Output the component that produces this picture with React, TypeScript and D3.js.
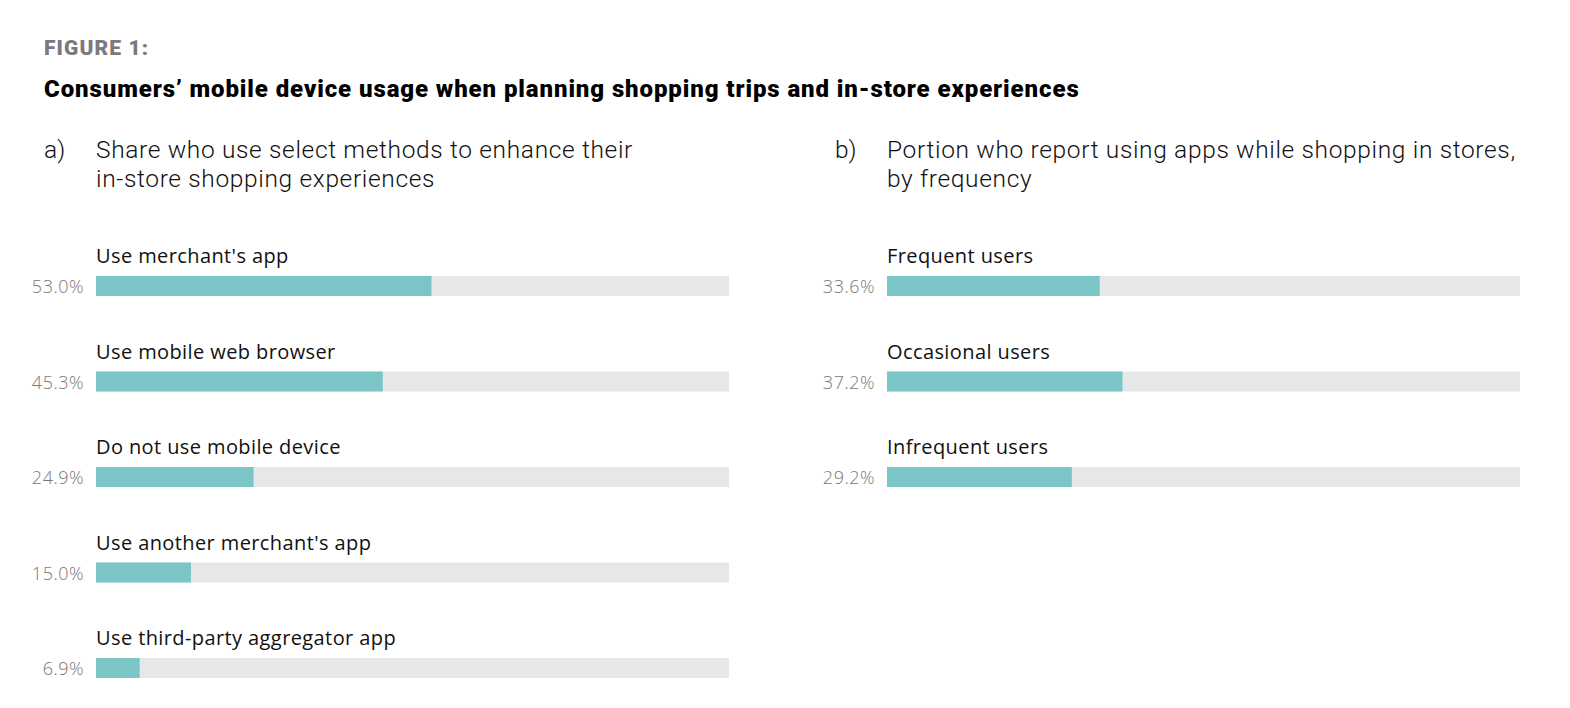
import React, { useEffect, useRef } from 'react';
import * as d3 from 'd3';

const methodLabels = [
  "Use merchant's app",
  'Use mobile web browser',
  'Do not use mobile device',
  "Use another merchant's app",
  'Use third-party aggregator app',
];
const methodValues = [53.0, 45.3, 24.9, 15.0, 6.9];

const frequencyLabels = ['Frequent users', 'Occasional users', 'Infrequent users'];
const frequencyValues = [33.6, 37.2, 29.2];

const FONT = "'Open Sans', 'Noto Sans', sans-serif";
const SUB_FONT = "'Roboto', sans-serif";
const teal = '#7cc5c6';
const track = '#e6e7e8';

const App: React.FC = () => {
  const svgRef = useRef<SVGSVGElement>(null);

  useEffect(() => {
    document.body.style.margin = '0';
    const svg = d3.select(svgRef.current);
    svg.selectAll('*').remove();

    const width = 1570;
    const height = 708;
    svg.attr('width', width).attr('height', height).style('background', '#fff');

    // Header
    svg.append('text')
      .attr('x', 44).attr('y', 55)
      .style('font-family', "'Roboto', sans-serif")
      .style('font-weight', 900)
      .style('font-size', '21px')
      .style('letter-spacing', '1.1px')
      .attr('fill', '#7a7a7a')
      .text('FIGURE 1:');

    svg.append('text')
      .attr('x', 44).attr('y', 97)
      .style('font-family', "'Roboto', sans-serif")
      .style('font-weight', 900)
      .style('font-size', '24px')
      .style('letter-spacing', '0.9px')
      .attr('fill', '#000')
      .text('Consumers\u2019 mobile device usage when planning shopping trips and in-store experiences');

    const panels = [
      {
        letter: 'a)', x0: 44, x: 96,
        title: ['Share who use select methods to enhance their', 'in-store shopping experiences'],
        labels: methodLabels, values: methodValues,
      },
      {
        letter: 'b)', x0: 835, x: 887,
        title: ['Portion who report using apps while shopping in stores,', 'by frequency'],
        labels: frequencyLabels, values: frequencyValues,
      },
    ];

    const barWidth = 633;
    const step = 95.5;
    const firstBarTop = 276;
    const barHeight = 20;

    panels.forEach(p => {
      const g = svg.append('g');

      g.append('text')
        .attr('x', p.x0).attr('y', 158)
        .style('font-family', SUB_FONT)
        .style('font-weight', 300)
        .style('font-size', '24.5px')
        .attr('fill', '#111')
        .text(p.letter);

      p.title.forEach((line, i) => {
        g.append('text')
          .attr('x', p.x).attr('y', 158 + i * 29)
          .style('font-family', SUB_FONT)
          .style('font-weight', 300)
          .style('font-size', '24.5px')
          .style('letter-spacing', '0.65px')
          .attr('fill', '#111')
          .text(line);
      });

      const x = d3.scaleLinear().domain([0, 100]).range([p.x, p.x + barWidth]);
      const y = d3.scaleBand<number>()
        .domain(d3.range(p.labels.length))
        .range([firstBarTop, firstBarTop + step * p.labels.length]);

      const rows = g.selectAll('g.row')
        .data(p.values.map((v, i) => ({ v, label: p.labels[i], i })))
        .enter()
        .append('g')
        .attr('class', 'row')
        .attr('transform', d => `translate(0,${y(d.i)})`);

      rows.append('rect')
        .attr('x', x(0)).attr('y', 0)
        .attr('width', x(100) - x(0))
        .attr('height', barHeight)
        .attr('fill', track);

      rows.append('rect')
        .attr('x', x(0)).attr('y', 0)
        .attr('width', d => x(d.v) - x(0))
        .attr('height', barHeight)
        .attr('fill', teal);

      rows.append('text')
        .attr('x', p.x).attr('y', -13)
        .style('font-family', FONT)
        .style('font-size', '20px')
        .style('letter-spacing', '0.4px')
        .attr('fill', '#111')
        .text(d => d.label);

      rows.append('text')
        .attr('x', p.x - 12).attr('y', 17)
        .attr('text-anchor', 'end')
        .style('font-family', FONT)
        .style('font-weight', 300)
        .style('font-size', '18px')
        .style('letter-spacing', '0.5px')
        .attr('fill', '#777')
        .text(d => `${d.v.toFixed(1)}%`);
    });
  }, []);

  return <svg ref={svgRef} style={{ display: 'block' }}></svg>;
};

export default App;
